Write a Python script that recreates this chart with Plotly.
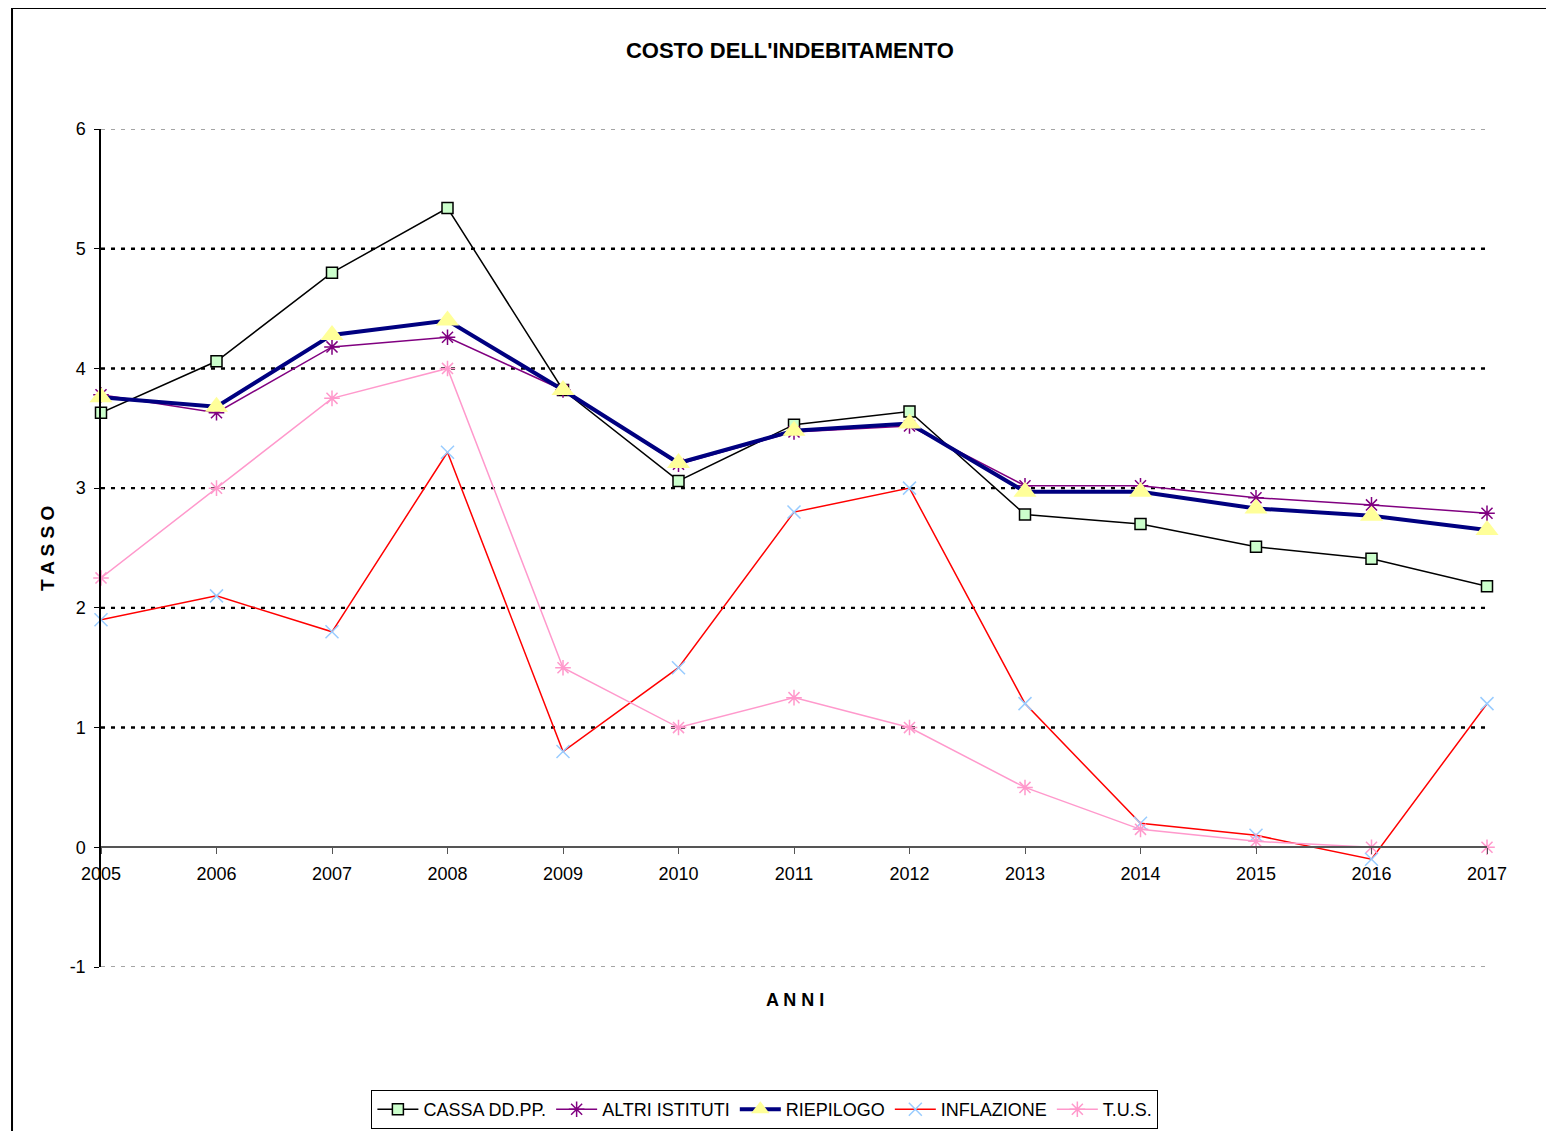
import plotly.graph_objects as go

years = list(range(2005, 2018))
cassa = [3.63, 4.06, 4.80, 5.34, 3.82, 3.06, 3.53, 3.64, 2.78, 2.70, 2.51, 2.41, 2.18]
altri = [3.78, 3.63, 4.18, 4.26, 3.82, 3.20, 3.47, 3.52, 3.02, 3.02, 2.92, 2.86, 2.79]
riepilogo = [3.76, 3.68, 4.28, 4.40, 3.82, 3.21, 3.48, 3.54, 2.97, 2.97, 2.83, 2.77, 2.65]
inflazione = [1.9, 2.1, 1.8, 3.3, 0.8, 1.5, 2.8, 3.0, 1.2, 0.2, 0.1, -0.1, 1.2]
tus = [2.25, 3.0, 3.75, 4.0, 1.5, 1.0, 1.25, 1.0, 0.5, 0.15, 0.05, 0.0, 0.0]
y_ticks = [-1, 0, 1, 2, 3, 4, 5, 6]

FONT = "Liberation Sans, Arial, sans-serif"

fig = go.Figure()
fig.add_trace(go.Scatter(
    x=years, y=cassa, name="CASSA DD.PP.", mode="lines+markers", cliponaxis=False,
    line=dict(color="black", width=1.5),
    marker=dict(symbol="square", size=11, color="#CCFFCC", line=dict(color="black", width=1.5))))
fig.add_trace(go.Scatter(
    x=years, y=altri, name="ALTRI ISTITUTI", mode="lines+markers", cliponaxis=False,
    line=dict(color="#800080", width=1.5),
    marker=dict(symbol="asterisk-open", size=13, color="#800080", line=dict(color="#800080", width=1.5))))
fig.add_trace(go.Scatter(
    x=years, y=riepilogo, name="RIEPILOGO", mode="lines+markers", cliponaxis=False,
    line=dict(color="#000080", width=4),
    marker=dict(symbol="triangle-up", size=20, color="#FFFF99", line=dict(width=0))))
fig.add_trace(go.Scatter(
    x=years, y=inflazione, name="INFLAZIONE", mode="lines+markers", cliponaxis=False,
    line=dict(color="#FF0000", width=1.5),
    marker=dict(symbol="x-thin-open", size=13, color="#99CCFF", line=dict(color="#99CCFF", width=1.5))))
fig.add_trace(go.Scatter(
    x=years, y=tus, name="T.U.S.", mode="lines+markers", cliponaxis=False,
    line=dict(color="#FF99CC", width=1.5),
    marker=dict(symbol="asterisk-open", size=13, color="#FF99CC", line=dict(color="#FF99CC", width=1.5))))

shapes = []
for v in y_ticks:
    if v == 0:
        continue
    edge = v in (y_ticks[0], y_ticks[-1])
    shapes.append(dict(type="line", xref="paper", yref="y", x0=0, x1=1, y0=v, y1=v,
                       line=dict(color="#888888" if edge else "black", width=1.5 if edge else 2.4,
                                 dash="4px,6px"), layer="below"))
# outer chart border
shapes.append(dict(type="rect", xref="paper", yref="paper", x0=-0.0642, x1=1.2, y0=-0.4, y1=1.1444,
                   line=dict(color="black", width=2)))

W, H = 1546, 1123
fig.update_layout(
    width=W, height=H,
    margin=dict(l=93, r=67, t=121, b=164, autoexpand=False),
    paper_bgcolor="white", plot_bgcolor="white",
    font=dict(family=FONT, size=18, color="black"),
    title=dict(text="<b>COSTO DELL'INDEBITAMENTO</b>", font=dict(size=22, family=FONT),
               x=0.497, xref="paper", xanchor="center", y=1 - 42 / H, yanchor="middle"),
    shapes=shapes,
    showlegend=True,
    legend=dict(orientation="h", x=0.479, xanchor="center", y=-0.1468, yanchor="top",
                bordercolor="black", borderwidth=1, font=dict(size=18, family=FONT),
                itemwidth=41, tracegroupgap=0),
    annotations=[
        dict(text="<b>T A S S O</b>", xref="paper", yref="paper", x=-0.039, y=0.5,
             textangle=-90, showarrow=False, font=dict(size=19, family=FONT),
             xanchor="center", yanchor="middle"),
        dict(text="<b>A N N I</b>", xref="paper", yref="paper", x=0.5007, y=-0.0394,
             showarrow=False, font=dict(size=18, family=FONT),
             xanchor="center", yanchor="middle"),
    ],
)
fig.update_xaxes(
    range=[2005, 2017], tickvals=years, ticktext=[str(y) for y in years],
    anchor="free", position=1 / 7, showgrid=False, zeroline=False,
    showline=True, linecolor="#555555", linewidth=1.5,
    ticks="outside", ticklen=6, tickcolor="#555555", tickwidth=1,
    ticklabelstandoff=4,
    tickfont=dict(size=18, family=FONT))
fig.update_yaxes(
    range=[-1, 6], tickvals=y_ticks, ticktext=[str(v) for v in y_ticks],
    showgrid=False, zeroline=False,
    showline=True, linecolor="black", linewidth=1.5,
    ticks="outside", ticklen=5, tickcolor="black",
    ticklabelstandoff=5,
    tickfont=dict(size=18, family=FONT))

fig.write_html("out.html")
